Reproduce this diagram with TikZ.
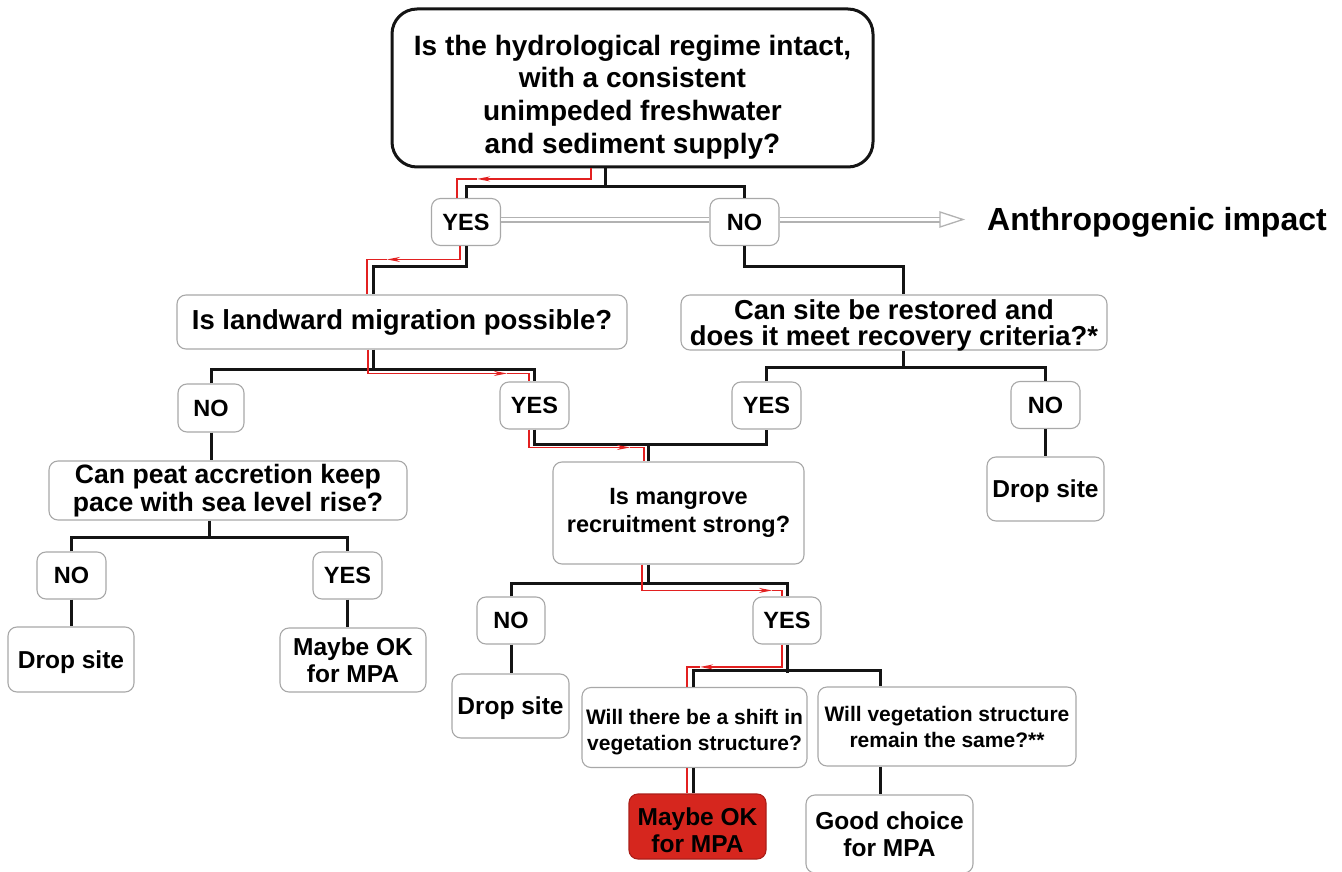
\documentclass[tikz,border=0pt]{standalone}
\usepackage{fontspec}
\setmainfont{Liberation Sans}
\usepackage{xcolor}
\usepackage{tikz}
\usetikzlibrary{arrows.meta,positioning,calc}

\definecolor{boxgray}{RGB}{168,168,168}
\definecolor{pathred}{RGB}{226,32,32}
\definecolor{mpared}{RGB}{214,38,30}

\begin{document}
\begin{tikzpicture}[
  x=1pt, y=-1pt,
  >=Stealth,
  wire/.style={line width=3pt, black!92},
  redline/.style={line width=1.6pt, pathred},
  redarrow/.style={redline, -{Stealth[length=13pt,width=5pt]}},
  greyline/.style={draw=black!30, line width=1.3pt, double=white, double distance=3.4pt},
  topq/.style={draw=black!92, line width=3pt, rounded corners=25pt, fill=white,
    align=center, inner sep=0pt, font=\fontsize{28}{32.7}\selectfont\bfseries},
  qbox/.style={draw=boxgray, line width=1.1pt, rounded corners=9pt, fill=white,
    align=center, inner sep=0pt},
  ans/.style={qbox, minimum width=69pt, minimum height=47pt,
    font=\fontsize{23.5}{26}\selectfont\bfseries},
  leaf/.style={qbox, font=\fontsize{24.5}{27}\selectfont\bfseries},
]
\useasboundingbox (0,0) rectangle (1342,872);

% Top question
\node[topq, minimum width=481pt, minimum height=158pt] (hydro) at (632.5,88)
  {\rule{0pt}{38pt}Is the hydrological regime intact,\\with a consistent\\unimpeded freshwater\\and sediment supply?};
\node[ans] (yesA) at (466,222) {YES};
\node[ans] (noA) at (744.5,222) {NO};
\node[anchor=west, inner sep=0pt, font=\fontsize{32}{36}\selectfont\bfseries] (anthro) at (987,222)
  {Anthropogenic impact};

% Second level
\node[qbox, minimum width=450pt, minimum height=54pt, font=\fontsize{27.5}{30}\selectfont\bfseries]
  (land) at (402,322) {Is landward migration possible?};
\node[qbox, minimum width=426pt, minimum height=55pt, text depth=0pt,
  font=\fontsize{27.4}{26.5}\selectfont\bfseries]
  (restore) at (894,322.5) {Can site be restored and\\does it meet recovery criteria?*};
\node[ans, minimum width=66pt, minimum height=48pt] (noB) at (211,408) {NO};
\node[ans] (yesB) at (534.5,405.5) {YES};
\node[ans] (yesC) at (766.5,405.5) {YES};
\node[ans] (noC) at (1045.5,405) {NO};
\node[leaf, text depth=0pt, minimum width=117pt, minimum height=64pt] (dropC) at (1045.5,489) {Drop site};

% Peat branch
\node[qbox, minimum width=358pt, minimum height=59pt, font=\fontsize{26.6}{28}\selectfont\bfseries]
  (peat) at (228,490.5) {Can peat accretion keep\\pace with sea level rise?};
\node[ans] (noD) at (71.5,575.5) {NO};
\node[ans] (yesD) at (347.5,575.5) {YES};
\node[leaf, text depth=0pt, minimum width=126pt, minimum height=65pt] (dropD) at (71,659.5) {Drop site};
\node[leaf, minimum width=146pt, minimum height=64pt] (maybeD) at (353,660) {Maybe OK\\for MPA};

% Mangrove branch
\node[qbox, minimum width=251pt, minimum height=102pt, font=\fontsize{23.5}{28}\selectfont\bfseries]
  (mangrove) at (678.5,513) {Is mangrove\\recruitment strong?};
\node[ans, minimum width=68pt] (noE) at (511,620.5) {NO};
\node[ans, minimum width=68pt] (yesE) at (787,620.5) {YES};
\node[leaf, text depth=0pt, minimum width=117pt, minimum height=64pt] (dropE) at (510.5,706) {Drop site};
\node[qbox, minimum width=225pt, minimum height=80pt, font=\fontsize{21}{26}\selectfont\bfseries]
  (shift) at (694.5,727.5) {\rule{0pt}{25pt}Will there be a shift in\\vegetation structure?};
\node[qbox, minimum width=258pt, minimum height=79pt, font=\fontsize{21}{26}\selectfont\bfseries]
  (same) at (947,726.5) {Will vegetation structure\\remain the same?**};
\node[leaf, fill=mpared, draw=mpared!80!black, minimum width=137pt, minimum height=65pt]
  (maybeF) at (697.5,826.5) {\rule{0pt}{26pt}Maybe OK\\for MPA};
\node[leaf, minimum width=167pt, minimum height=78pt] (good) at (889.5,834) {Good choice\\for MPA};

% Tree lines
\draw[wire] ([xshift=-27.5pt]hydro.south) -- ++(0,20);
\draw[wire] (yesA.north) -- ++(0,-11) -| (noA.north);
\draw[wire] (yesA.south) |- ([xshift=-29pt,yshift=28pt]land.north) -- ([xshift=-29pt]land.north);
\draw[wire] (noA.south) |- ([xshift=9pt,yshift=28pt]restore.north) -- ([xshift=9pt]restore.north);
\draw[wire] ([xshift=-29pt]land.south) -- ++(0,21);
\draw[wire] (noB.north) -- ++(0,-14) -| (yesB.north);
\draw[wire] ([xshift=9pt]restore.south) -- ++(0,18);
\draw[wire] (yesC.north) -- ++(0,-14) -| (noC.north);
\draw[wire] (yesB.south) -- ++(0,15) -| (yesC.south);
\draw[wire] ([xshift=-30.5pt]mangrove.north) -- ++(0,-18);
\draw[wire] (noC.south) -- (dropC.north);
\draw[wire] (noB.south) -- (noB.south |- peat.north);
\draw[wire] ([xshift=-19pt]peat.south) -- ++(0,18);
\draw[wire] (noD.north) -- ++(0,-14) -| (yesD.north);
\draw[wire] (noD.south) -- (noD.south |- dropD.north);
\draw[wire] (yesD.south) -- (yesD.south |- maybeD.north);
\draw[wire] ([xshift=-30.5pt]mangrove.south) -- ++(0,20);
\draw[wire] (noE.north) -- ++(0,-13) -| (yesE.north);
\draw[wire] (noE.south) -- (noE.south |- dropE.north);
\draw[wire] (yesE.south) -- ++(0,28);
\draw[wire] ([xshift=-1.5pt]shift.north) -- ++(0,-16) -| ([xshift=-67pt]same.north);
\draw[wire] ([xshift=-1.5pt]shift.south) -- ([xshift=-1.5pt]shift.south |- maybeF.north);
\draw[wire] ([xshift=-67pt]same.south) -- ([xshift=-67pt]same.south |- good.north);

% Red path
\draw[redarrow] ([xshift=-41.5pt]hydro.south) |- ([xshift=11pt,yshift=19pt]yesA.north);
\draw[redline] ([xshift=11pt,yshift=19pt]yesA.north) -| ([xshift=-9pt]yesA.north);
\draw[redarrow] ([xshift=-6pt]yesA.south) |- ([xshift=-15pt,yshift=35pt]land.north);
\draw[redline] ([xshift=-15pt,yshift=35pt]land.north) -| ([xshift=-35pt]land.north);
\draw[redarrow] ([xshift=-34pt]land.south) |- ([xshift=-27.5pt,yshift=8pt]yesB.north);
\draw[redline] ([xshift=-27.5pt,yshift=8pt]yesB.north) -| ([xshift=-5.5pt]yesB.north);
\draw[redarrow] ([xshift=-5.5pt]yesB.south) |- ([xshift=-48.5pt,yshift=14pt]mangrove.north);
\draw[redline] ([xshift=-48.5pt,yshift=14pt]mangrove.north) -| ([xshift=-34.5pt]mangrove.north);
\draw[redarrow] ([xshift=-36.5pt]mangrove.south) |- ([xshift=-15pt,yshift=6pt]yesE.north);
\draw[redline] ([xshift=-15pt,yshift=6pt]yesE.north) -| ([xshift=-5pt]yesE.north);
\draw[redarrow] ([xshift=-5pt]yesE.south) |- ([xshift=5.5pt,yshift=20pt]shift.north);
\draw[redline] ([xshift=5.5pt,yshift=20pt]shift.north) -| ([xshift=-7.5pt]shift.north);
\draw[redline] ([xshift=-7.5pt]shift.south) -- ([xshift=-7.5pt]shift.south |- maybeF.north);

% Grey double arrow
\coordinate (anthroTip) at ([xshift=-24pt,yshift=2.5pt]anthro.west);
\draw[greyline] (yesA.east |- anthroTip) -- (noA.west |- anthroTip);
\draw[greyline] (noA.east |- anthroTip) -- ([xshift=-23pt]anthroTip);
\draw[draw=black!30, line width=1.3pt, fill=white, line join=miter]
  ([xshift=-23pt,yshift=7.5pt]anthroTip) -- (anthroTip) -- ([xshift=-23pt,yshift=-7.5pt]anthroTip) -- cycle;
\end{tikzpicture}
\end{document}
